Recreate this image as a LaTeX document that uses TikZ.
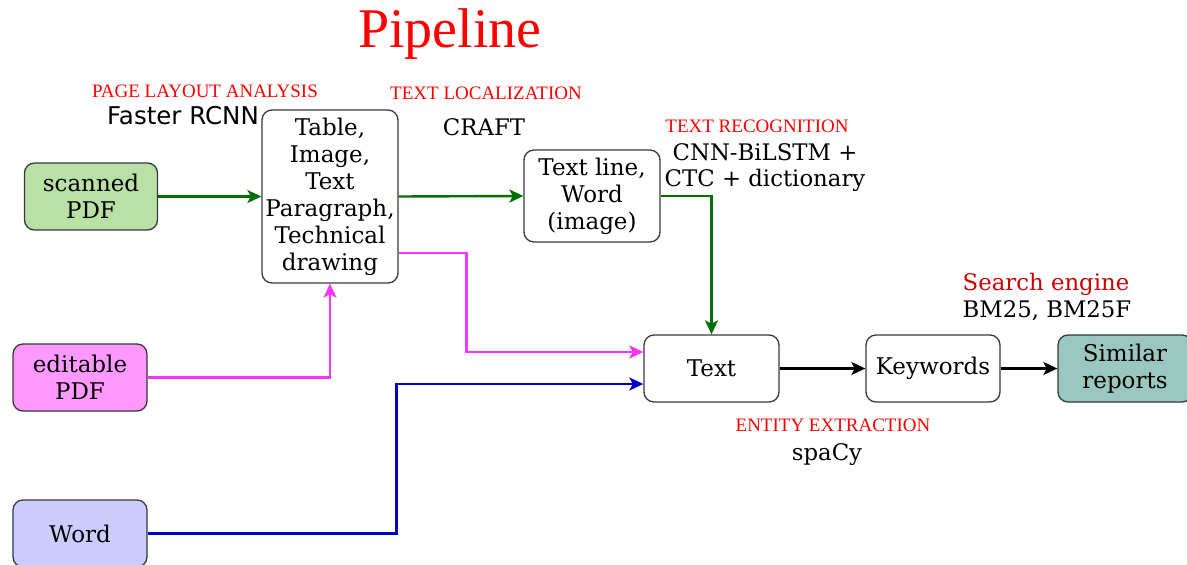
\documentclass[tikz,border=0pt]{standalone}
\usepackage{fontspec}
\setmainfont{DejaVu Serif}
\newfontfamily\timesfont{Liberation Serif}
\newfontfamily\sansfont{DejaVu Sans}
\usetikzlibrary{arrows.meta,calc}

\definecolor{flowgreen}{RGB}{0,112,0}
\definecolor{flowmagenta}{RGB}{255,51,255}
\definecolor{flowblue}{RGB}{0,0,204}
\definecolor{boxline}{RGB}{54,57,61}
\definecolor{fillgreen}{RGB}{185,224,165}
\definecolor{fillmagenta}{RGB}{255,153,255}
\definecolor{fillblue}{RGB}{204,204,255}
\definecolor{fillteal}{RGB}{154,199,191}
\definecolor{stagered}{RGB}{255,0,0}
\definecolor{searchred}{RGB}{204,0,0}

\tikzset{
  stepbox/.style={draw=boxline, line width=1.3pt, rounded corners=10pt,
    align=center, inner sep=2pt, font=\fontsize{23}{27}\selectfont},
  stagelabel/.style={text=stagered, font=\timesfont\fontsize{19}{22}\selectfont, inner sep=0pt},
  toollabel/.style={font=\fontsize{22.8}{26}\selectfont, align=center, inner sep=0pt},
  flow/.style={line width=2.4pt, -{Stealth[length=14pt,width=13pt,inset=3.5pt]}},
}

\begin{document}
\begin{tikzpicture}[x=1pt,y=-1pt]
\useasboundingbox (0,0) rectangle (1187,565);

% title
\node[text=stagered, font=\timesfont\fontsize{56}{60}\selectfont, inner sep=0pt] (title) at (450,34) {Pipeline};

% boxes
\node[stepbox, fill=fillgreen, minimum width=133pt, minimum height=67pt] (scanned) at (91,196.5) {scanned\\PDF};
\node[stepbox, minimum width=136pt, minimum height=173pt] (layout) at (330,196.5) {Table,\\Image,\\Text\\Paragraph,\\Technical\\drawing};
\node[stepbox, minimum width=136pt, minimum height=92pt] (lines) at (592,196) {Text line,\\Word\\(image)};
\node[stepbox, minimum width=135pt, minimum height=67pt] (text) at (711.5,368.5) {Text};
\node[stepbox, minimum width=134pt, minimum height=67pt] (keywords) at (933,368.5) {Keywords};
\node[stepbox, fill=fillteal, minimum width=134pt, minimum height=67pt] (similar) at (1125,368.5) {Similar\\reports};
\node[stepbox, fill=fillmagenta, minimum width=134pt, minimum height=67pt] (editable) at (80,377.5) {editable\\PDF};
\node[stepbox, fill=fillblue, minimum width=134pt, minimum height=67pt] (word) at (80,533.5) {Word};

% stage and tool labels
\node[stagelabel] (layoutstage) at (205,91) {PAGE LAYOUT ANALYSIS};
\node[toollabel, font=\sansfont\fontsize{24.5}{28}\selectfont] (layouttool) at (183,116) {Faster RCNN};
\node[stagelabel] (locstage) at (486,93) {TEXT LOCALIZATION};
\node[toollabel] (loctool) at (484,127) {CRAFT};
\node[stagelabel] (recstage) at (757,126) {TEXT RECOGNITION};
\node[toollabel, align=center] (rectool) at (765,168) {CNN-BiLSTM +\\CTC + dictionary};
\node[toollabel, text=searchred] (searchstage) at (1046,284) {Search engine};
\node[toollabel] (searchtool) at (1047,311) {BM25, BM25F};
\node[stagelabel] (entstage) at (833,425) {ENTITY EXTRACTION};
\node[toollabel] (enttool) at (827,455) {spaCy};

% scanned documents path
\draw[flow, flowgreen] (scanned.east) -- (layout.west);
\draw[flow, flowgreen] (layout.east) -- (lines.west);
\draw[flow, flowgreen] (lines.east) -| (text.north);

% editable PDF path
\draw[flow, flowmagenta] (editable.east) -| (layout.south);
\draw[flow, flowmagenta] ($(layout.east)+(0,56.5)$) -- ++(68,0) |- ($(text.west)+(0,-16.5)$);

% Word documents path
\draw[flow, flowblue] (word.east) -- ++(249,0) |- ($(text.west)+(0,15.5)$);

% search
\draw[flow, black] (text.east) -- (keywords.west);
\draw[flow, black] (keywords.east) -- (similar.west);
\end{tikzpicture}
\end{document}
